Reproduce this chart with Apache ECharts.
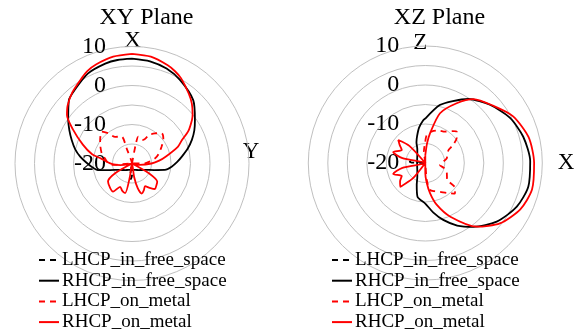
<!DOCTYPE html>
<html><head><meta charset="utf-8">
<script src="https://cdn.jsdelivr.net/npm/echarts@6/dist/echarts.min.js"></script>
<style>html,body{margin:0;padding:0;background:#fff}#c{width:584px;height:333px}</style>
</head><body><div id="c"></div>
<script>
// names and ticks
const seriesNames = ['LHCP_in_free_space', 'RHCP_in_free_space', 'LHCP_on_metal', 'RHCP_on_metal'];
const plotTitles = ['XY Plane', 'XZ Plane'];
const radialLabels = [-20, -10, 0, 10];
// [angle (deg, clockwise from top), gain (dB)]
const xyLhcpFree = [[0,-20],[172,-20],[180,-17],[184,-16],[188,-17],[195,-20],[360,-20]];
const xyRhcpFree = [[0,6.9],[10,6.6],[20,5.9],[30,4.7],[44,2.6],[55.4,-0.4],[62,-1.9],[68.5,-3.5],[75,-5.2],[82.2,-7.1],[88,-8.4],[94.6,-9.8],[101,-11.4],[106.5,-14.1],[118,-16.5],[135,-17.6],[150,-18.1],[165,-18.3],[180,-18.3],[195,-18.3],[210,-18.1],[225,-17.6],[242,-16.5],[253.5,-14.1],[259.2,-11.1],[265.5,-9.6],[271.5,-8.2],[277.5,-6.6],[284,-5.0],[291.3,-3.4],[298,-1.8],[304.3,-0.2],[315,2.9],[322,3.9],[334,5.7],[345,6.5],[352,6.8],[360,6.9]];
const xyLhcpMetal = [[0,-20],[8,-20],[11,-15],[13.2,-12.9],[20,-13],[25.7,-13.3],[31,-11.5],[37.3,-10.3],[44.5,-9.1],[52,-9.8],[60.5,-11.3],[70,-12.7],[77.3,-13.9],[89,-16.7],[95,-20],[262,-20],[266,-15],[271,-13.9],[280,-13],[288.6,-11.8],[302.6,-10.3],[310,-9.4],[316.4,-8.7],[322,-10.2],[327.6,-11.9],[339,-12.6],[340.5,-16],[345,-19],[350,-20],[360,-20]];
const xyRhcpMetal = [[0,8.1],[10,7.8],[20,6.8],[25,6.1],[30,5.2],[39,3.1],[45,1.7],[51,0.0],[54,-1.0],[60,-3.3],[65,-5.9],[70,-7.5],[78,-11],[84,-13],[90,-15],[100,-18],[108,-20],[116,-20],[120,-15],[126,-12.0],[132,-11.6],[138,-11.2],[144,-12.3],[150,-13.3],[156,-12.5],[162,-11.9],[167,-13.5],[171,-16.5],[175,-20],[185,-20],[189,-16.5],[193,-12.2],[200,-12.6],[207,-13.3],[214,-11.3],[222,-11.6],[233,-12.3],[240,-15],[246,-20],[255,-19.5],[262,-17],[268,-15],[274,-13.5],[279,-12],[283,-9.5],[291,-6.5],[300,-2.5],[306.7,0.8],[312,2.2],[320,3.8],[330,5.5],[334,6.3],[340,7.0],[350,7.8],[360,8.1]];
const xzLhcpFree = [[0,-20],[265,-20],[272,-16.5],[275,-16],[278,-16.5],[285,-20],[360,-20]];
const xzRhcpFree = [[0,-8.6],[14,-4.7],[24,-2.6],[34,-0.2],[48,2.3],[62,4.6],[75,6.0],[89,6.9],[103,7.1],[115.5,6.0],[129.4,3.7],[143,0.5],[153,-2.0],[162.5,-4.7],[171,-7.2],[180,-9.6],[193,-11.1],[201.5,-14.0],[210,-15.9],[225,-17.1],[240,-17.6],[270,-17.9],[300,-17.6],[315,-17.1],[330,-15.9],[337,-14.2],[343,-12.8],[350,-10.8],[357,-9.1],[360,-8.6]];
const xzLhcpMetal = [[0,-14.5],[3,-12.8],[12,-11.7],[22,-11],[32,-10.5],[40,-9.3],[45,-8.6],[51,-9.6],[57,-11.5],[61,-13.2],[70,-14],[78,-14.4],[90,-15.8],[98,-16.2],[105,-15],[112,-14.1],[120,-13.6],[127,-13],[130,-10],[136,-9.1],[144,-10.5],[153,-11.7],[162,-12.4],[170,-13],[175,-15.6],[181,-20],[346,-20],[353,-17],[360,-14.5]];
const xzRhcpMetal = [[0,-18],[5,-15],[9,-12.3],[16.5,-6.7],[27.7,-2.7],[37,0.5],[50,2.8],[62,5.5],[76,7.3],[90,7.9],[104,8.2],[116,7.1],[129,4.6],[141,1.0],[155,-4.8],[165,-9],[171,-12.1],[176,-15],[180,-17.4],[186,-20],[215,-20],[219,-15],[226.5,-11.1],[234,-12],[241,-13.1],[251,-11.3],[258,-14],[265,-20],[275,-20],[282,-14],[289,-11.3],[299,-13.1],[305,-12],[310.4,-10.9],[317,-14],[324,-20],[355,-20],[360,-18]];

const FONT = "'Liberation Serif', 'Times New Roman', serif";
const styles = [
  {color: '#000000', type: [6, 5]},
  {color: '#000000', type: 'solid'},
  {color: '#ff0000', type: [6, 5]},
  {color: '#ff0000', type: 'solid'}
];
const planes = [
  {data: [xyLhcpFree, xyRhcpFree, xyLhcpMetal, xyRhcpMetal], center: [132, 163.5], titleX: 146.5, legendLeft: 38,
   axisNames: [{t: 'X', x: 132.5, y: 41}, {t: 'Y', x: 251, y: 152}]},
  {data: [xzLhcpFree, xzRhcpFree, xzLhcpMetal, xzRhcpMetal], center: [425.3, 163], titleX: 439.5, legendLeft: 331,
   axisNames: [{t: 'Z', x: 420.3, y: 43}, {t: 'X', x: 566, y: 163}]}
];

const polar = [], angleAxis = [], radiusAxis = [], series = [], legend = [], graphic = [];
planes.forEach((p, i) => {
  polar.push({center: p.center, radius: 117});
  angleAxis.push({polarIndex: i, type: 'value', min: 0, max: 360, startAngle: 90, clockwise: true,
    axisLine: {show: false}, axisTick: {show: false}, axisLabel: {show: false}, splitLine: {show: false}});
  radiusAxis.push({polarIndex: i, type: 'value', min: -20, max: 10, interval: 5,
    axisLine: {show: false}, axisTick: {show: false},
    axisLabel: {show: true, margin: 26, color: '#000', fontFamily: FONT, fontSize: 24, padding: [3, 0, 0, 0],
      formatter: v => radialLabels.indexOf(v) >= 0 ? String(v) : ''},
    splitLine: {show: true, lineStyle: {color: '#c0c0c0', width: 1}}});
  p.data.forEach((d, k) => {
    series.push({name: seriesNames[k], type: 'line', coordinateSystem: 'polar', polarIndex: i,
      data: d.map(pt => [pt[1], pt[0]]), symbol: 'none', showSymbol: false, smooth: 0.25,
      lineStyle: {color: styles[k].color, type: styles[k].type, width: 1.8},
      itemStyle: {color: styles[k].color}, silent: true, animation: false, z: k === 0 ? 1 : 2 + k});
  });
  legend.push({data: seriesNames, orient: 'vertical', left: p.legendLeft, top: 250.5, height: 83, padding: 0,
    itemWidth: 20, itemHeight: 10, itemGap: 1.7, selectedMode: false,
    itemStyle: {opacity: 0, borderWidth: 0},
    textStyle: {fontFamily: FONT, fontSize: 19, color: '#000', padding: [0, 0, 0, -2]}});
  graphic.push({type: 'text', x: p.titleX, y: 18, style: {text: plotTitles[i], font: '24px ' + FONT, fill: '#000',
    textAlign: 'center', textVerticalAlign: 'middle'}});
  p.axisNames.forEach(a => graphic.push({type: 'text', x: a.x, y: a.y,
    style: {text: a.t, font: '23px ' + FONT, fill: '#000', textAlign: 'center', textVerticalAlign: 'middle'}}));
});

const chart = echarts.init(document.getElementById('c'), null, {renderer: 'canvas'});
chart.setOption({animation: false, backgroundColor: '#fff', polar, angleAxis, radiusAxis, series, legend, graphic});
</script>
</body></html>
